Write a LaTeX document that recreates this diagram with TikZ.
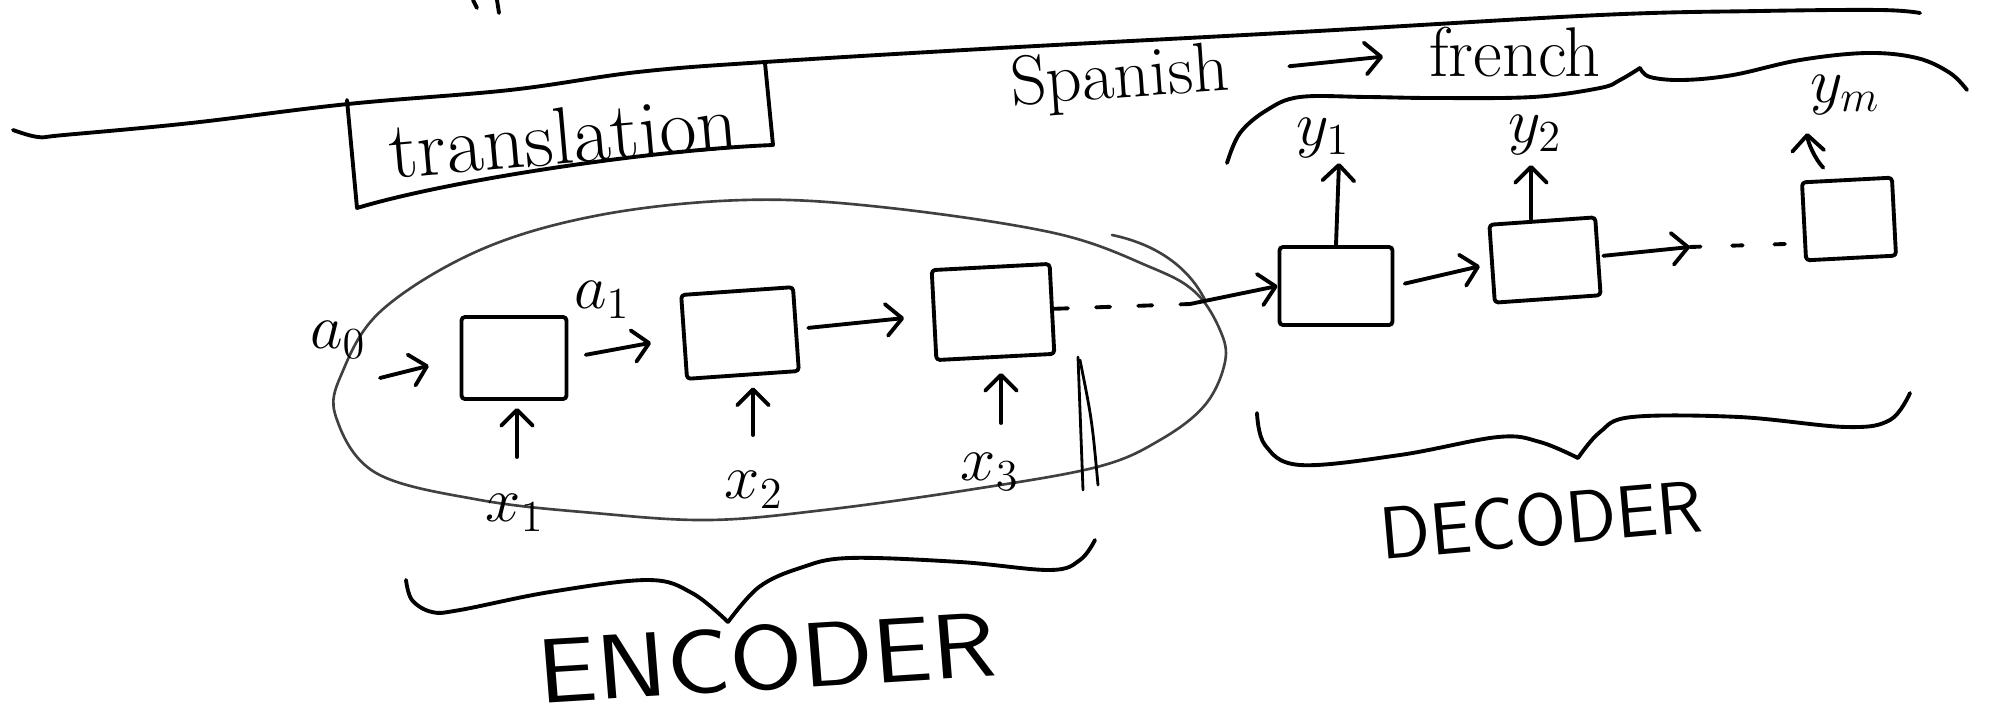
\RequirePackage{fix-cm}
\documentclass[tikz,border=0pt]{standalone}
\usepackage{fontspec}
\usetikzlibrary{arrows.meta}
\begin{document}
\begin{tikzpicture}[x=0.01cm, y=-0.01cm,
  ink/.style={line width=1.1pt, line cap=round, line join=round, draw=black},
  cell/.style={draw, line width=1.1pt, line join=round, rounded corners=1pt, inner sep=0pt},
  flow/.style={ink, -{Straight Barb[length=4.5pt,width=9pt,round]}},
  lbl/.style={inner sep=0pt, font=\fontsize{18}{20}\selectfont},
  word/.style={inner sep=0pt, font=\fontsize{20}{24}\selectfont},
  title/.style={inner sep=0pt, font=\sffamily\fontsize{26}{30}\selectfont},
  blob/.style={line width=0.75pt, draw=black!75, line cap=round}
]
\fill[white] (0,0) rectangle (1990,721);
\useasboundingbox (0,0) rectangle (1990,721);

% two short strokes at the top edge
\draw[ink] (473,0) -- (477,8);
\draw[ink] (497,0) -- (499,13);

% long separating line across the page
\draw[ink] plot[smooth, tension=0.6] coordinates {(13,130) (38,137) (64,135) (191,123) (348,104) (510,90) (638,72) (765,62) (1000,48) (1300,32) (1600,15) (1760,11) (1880,10) (1920,13)};

% boxed title
\draw[ink] (347,100) -- (357,208) .. controls (450,180) and (650,150) .. (773,145) -- (765,63);
\node[word, font=\fontsize{23}{26}\selectfont, rotate=5] (trans) at (563,136) {translation};

% language pair
\node[word, rotate=4] (es) at (1120,80) {Spanish};
\node[word] (fr) at (1515,52) {french};
\draw[flow, shorten <=17pt, shorten >=13pt] (es.east) -- (fr.west);

% encoder outline
\draw[blob] plot[smooth cycle, tension=0.6] coordinates {(336,417) (342,373) (382,310) (480,250) (600,215) (744,200) (881,207) (1054,233) (1150,267) (1195,292) (1220,330) (1225,362) (1205,405) (1160,440) (1097,467) (968,490) (824,510) (709,520) (594,513) (480,500) (376,473)};
\draw[blob] (1112,235) .. controls (1160,245) and (1190,270) .. (1205,300);

% encoder cells
\node[cell, minimum width=1.05cm, minimum height=0.82cm] (c1) at (514,358) {};
\node[cell, minimum width=1.12cm, minimum height=0.84cm, rotate=4] (c2) at (740,333) {};
\node[cell, minimum width=1.18cm, minimum height=0.9cm, rotate=3] (c3) at (993,312) {};

% decoder cells
\node[cell, minimum width=1.13cm, minimum height=0.78cm] (d1) at (1336,286) {};
\node[cell, minimum width=1.06cm, minimum height=0.78cm, rotate=4] (d2) at (1545,260) {};
\node[cell, minimum width=0.9cm, minimum height=0.78cm, rotate=3] (d3) at (1849,219) {};

% labels
\node[lbl] (a0) at (338,340) {$a_0$};
\node[lbl] (a1) at (602,300) {$a_1$};
\node[lbl] (x1) at (515,513) {$x_1$};
\node[lbl] (x2) at (754,490) {$x_2$};
\node[lbl] (x3) at (990,472) {$x_3$};
\node[lbl] (y1) at (1323,138) {$y_1$};
\node[lbl] (y2) at (1535,135) {$y_2$};
\node[lbl] (ym) at (1845,95) {$y_m$};

% arrow tails and heads
\coordinate (a0t) at (380,378);
\coordinate (x1t) at (517,457);
\coordinate (x2t) at (753,435);
\coordinate (x3t) at (1001,423);
\coordinate (gap1) at (1190,304);
\coordinate (gap2) at (1690,247);
\coordinate (gap3) at (1785,244);
\coordinate (y1t) at (1339,163);
\coordinate (y2t) at (1531,165);

% encoder recurrence
\draw[flow, shorten >=9pt] (a0t) -- (c1.west);
\draw[flow, shorten <=5pt, shorten >=9pt] (c1.east) -- (c2.west);
\draw[flow, shorten <=3pt, shorten >=8pt] (c2.east) -- (c3.west);
\draw[flow, shorten >=2pt] (x1t) -- (x1t |- c1.south);
\draw[flow, shorten >=3pt] (x2t) -- (x2t |- c2.south);
\draw[flow, shorten >=4pt] (x3t) -- (x3t |- c3.south);

% hand-over to the decoder
\draw[ink, dash pattern=on 4pt off 8pt] (c3.east) -- (gap1);
\draw[flow] (gap1) -- (d1.west);
\draw[ink, line width=0.8pt] (1078,357) -- (1083,490);
\draw[ink, line width=0.8pt] (1080,360) .. controls (1092,420) .. (1098,485);

% decoder recurrence
\draw[flow, shorten <=3pt, shorten >=3pt] (d1.east) -- (d2.west);
\draw[flow, shorten <=1pt] (d2.east) -- (gap2);
\draw[ink, dash pattern=on 3pt off 9pt] (gap2) -- (gap3);
\draw[flow] (d1.north) -- (y1t);
\draw[flow] (y2t |- d2.north) -- (y2t);
\draw[flow, shorten <=4pt, shorten >=5pt] ([xshift=-0.14cm]d3.north) to[bend left=20] ([xshift=-0.03cm]ym.south west);

% braces
\draw[ink] plot[smooth, tension=0.6] coordinates {(406,580) (412,600) (432,612) (460,610) (550,592) (648,580) (692,593) (728,622)};
\draw[ink] plot[smooth, tension=0.6] coordinates {(728,622) (759,587) (800,568) (849,558) (960,562) (1050,570) (1080,560) (1095,540)};
\draw[ink] plot[smooth, tension=0.6] coordinates {(1257,413) (1265,445) (1300,465) (1400,455) (1498,437) (1540,442) (1578,458)};
\draw[ink] plot[smooth, tension=0.6] coordinates {(1578,458) (1600,432) (1632,417) (1739,417) (1846,427) (1890,420) (1910,393)};
\draw[ink] plot[smooth, tension=0.6] coordinates {(1227,163) (1240,133) (1267,110) (1300,97) (1367,97) (1433,98) (1533,97) (1600,88) (1620,80) (1640,68)};
\draw[ink] plot[smooth, tension=0.6] coordinates {(1640,68) (1650,77) (1683,80) (1733,75) (1800,60) (1867,53) (1917,58) (1950,73) (1967,90)};

% group names
\node[title, xscale=1.15, rotate=4] (enc) at (767,658) {ENCODER};
\node[title, font=\sffamily\fontsize{21}{24}\selectfont, rotate=5] (dec) at (1541,520) {DECODER};
\end{tikzpicture}
\end{document}
